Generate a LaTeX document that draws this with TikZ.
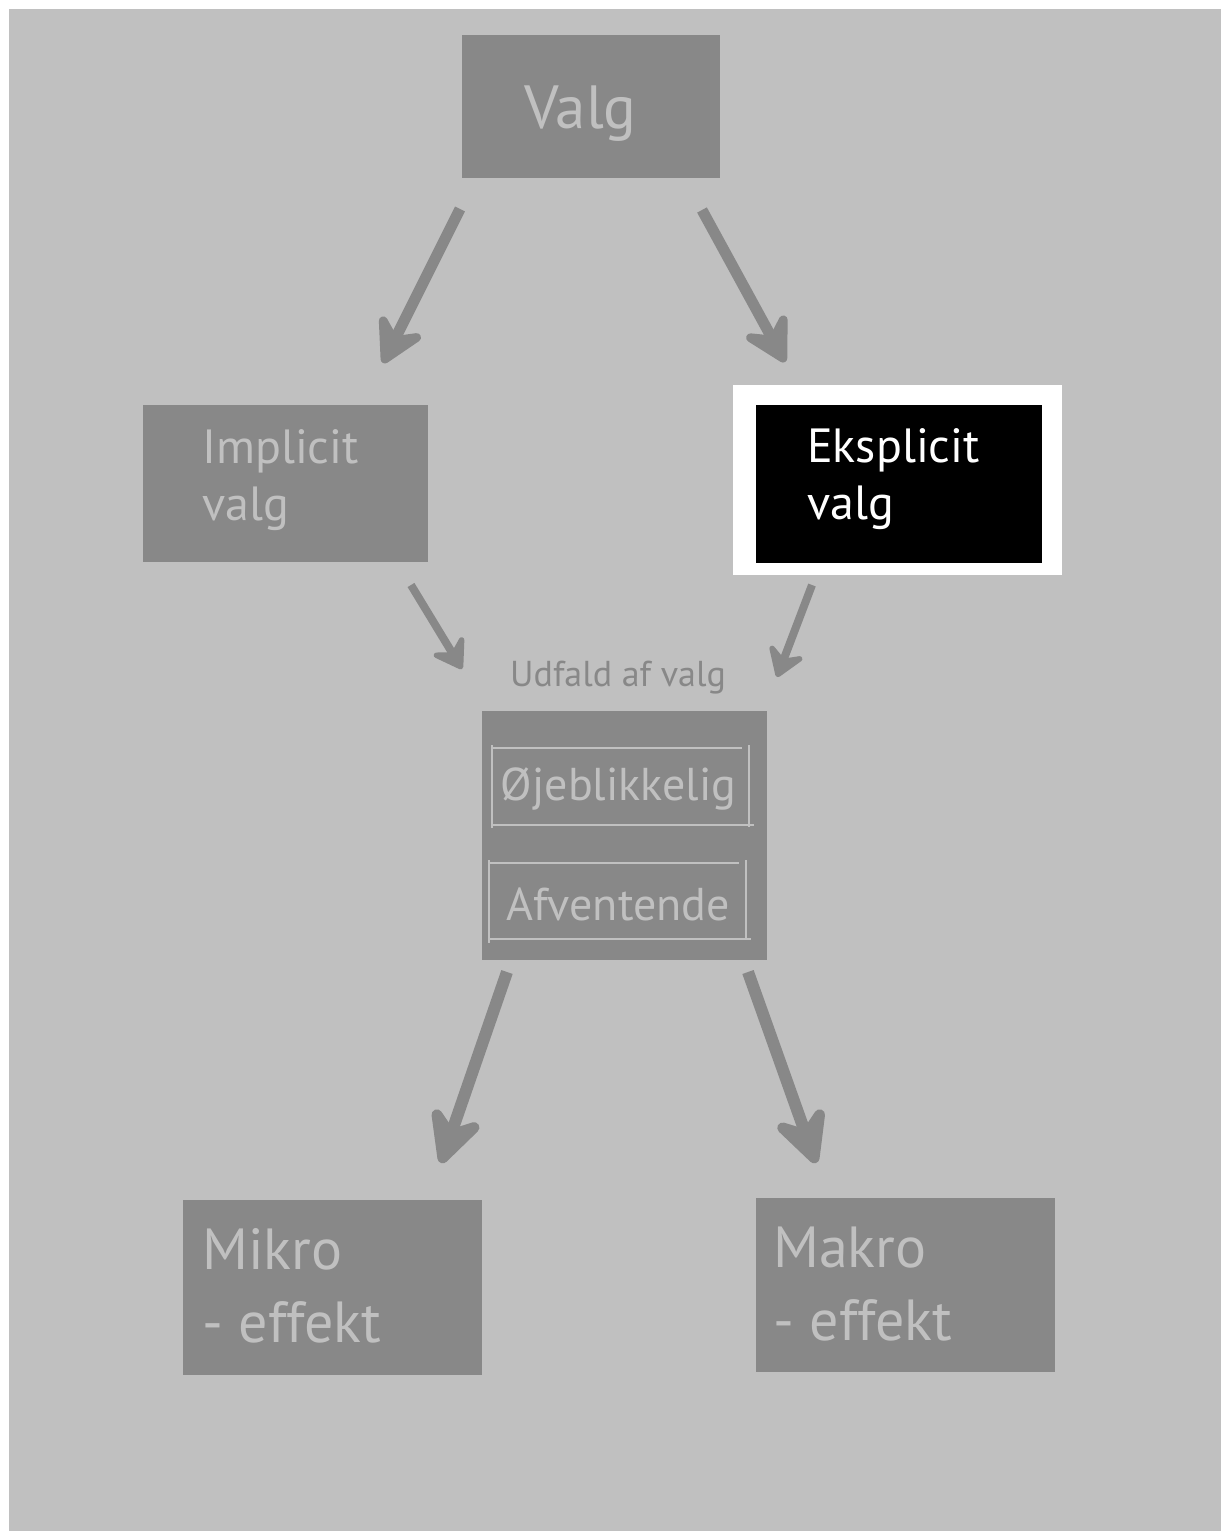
\documentclass[tikz,border=0pt]{standalone}
\usepackage{fontspec}
\setmainfont{PT Sans}
\usetikzlibrary{arrows.meta}
\definecolor{bggray}{HTML}{C0C0C0}
\definecolor{boxgray}{HTML}{888888}
\tikzset{line/.style={draw, boxgray, line width=11pt, -{Stealth[length=56pt, width=62pt, inset=21pt, round]}}}
\tikzset{thinline/.style={draw, boxgray, line width=8pt, -{Stealth[length=35pt, width=46pt, inset=13pt, round]}}}
\tikzset{thickline/.style={draw, boxgray, line width=12pt, -{Stealth[length=68pt, width=68pt, inset=25pt, round]}}}

\begin{document}
\begin{tikzpicture}[x=1pt, y=-1pt]
\tikzstyle{block} = [rectangle, fill=boxgray, inner sep=0pt]
\tikzstyle{txt} = [anchor=base west, inner sep=0pt, align=left, text=bggray]
\tikzstyle{frame} = [draw=bggray, line width=2pt]

\useasboundingbox (0,0) rectangle (1221,1531);
\fill[bggray] (9,9) rectangle (1221,1531);

% boxes
\node [block, minimum width=258pt, minimum height=143pt] (valg) at (591,106.5) {};
\node [block, minimum width=285pt, minimum height=157pt] (implicit) at (285.5,483.5) {};
\fill[white] (733,385) rectangle (1062,575);
\node [block, fill=black, minimum width=286pt, minimum height=158pt] (eksplicit) at (899,484) {};
\node [block, minimum width=285pt, minimum height=249pt] (udfald) at (624.5,835.5) {};
\node [block, minimum width=299pt, minimum height=175pt] (mikro) at (332.5,1287.5) {};
\node [block, minimum width=299pt, minimum height=174pt] (makro) at (905.5,1285) {};

% texts (base = last line)
\node [txt, font=\fontsize{61}{73}\selectfont] (valgtxt) at (524,128) {Valg};
\node [txt, font=\fontsize{48}{57}\selectfont] (implicittxt) at (202,520) {Implicit\\valg};
\node [txt, text=white, font=\fontsize{48}{57}\selectfont] (eksplicittxt) at (807,519) {Eksplicit\\valg};
\node [anchor=base, inner sep=0pt, text=boxgray, font=\fontsize{36}{43}\selectfont] (udfaldtxt) at (618,686) {Udfald af valg};
\node [anchor=base, inner sep=0pt, text=bggray, font=\fontsize{46}{55}\selectfont] (oejeblik) at (618.5,800) {Øjeblikkelig};
\node [anchor=base, inner sep=0pt, text=bggray, font=\fontsize{46}{55}\selectfont] (afvent) at (618,920) {Afventende};
\node [txt, font=\fontsize{58}{73}\selectfont] (mikrotxt) at (202,1342) {Mikro\\- effekt};
\node [txt, font=\fontsize{58}{73}\selectfont] (makrotxt) at (773,1340) {Makro\\- effekt};

% frames round the outcomes
\draw [frame] (492,748) -- (742,748) (492,745) -- (492,828) (492,825) -- (754,825) (749,745) -- (749,827);
\draw [frame] (489,863) -- (739,863) (489,860) -- (489,943) (489,939) -- (751,939) (746,860) -- (746,939);

% arrow ends
\coordinate (a1s) at (460,209);
\coordinate (a1e) at (383,363);
\coordinate (a2s) at (702,210);
\coordinate (a2e) at (785,362);
\coordinate (a3s) at (411,585);
\coordinate (a3e) at (462,669);
\coordinate (a4s) at (812,585);
\coordinate (a4e) at (777,677);
\coordinate (a5s) at (507,972);
\coordinate (a5e) at (441,1163);
\coordinate (a6s) at (748,972);
\coordinate (a6e) at (816,1163);

\path [line] (a1s) -- (a1e);
\path [line] (a2s) -- (a2e);
\path [thinline] (a3s) -- (a3e);
\path [thinline] (a4s) -- (a4e);
\path [thickline] (a5s) -- (a5e);
\path [thickline] (a6s) -- (a6e);

\end{tikzpicture}
\end{document}
